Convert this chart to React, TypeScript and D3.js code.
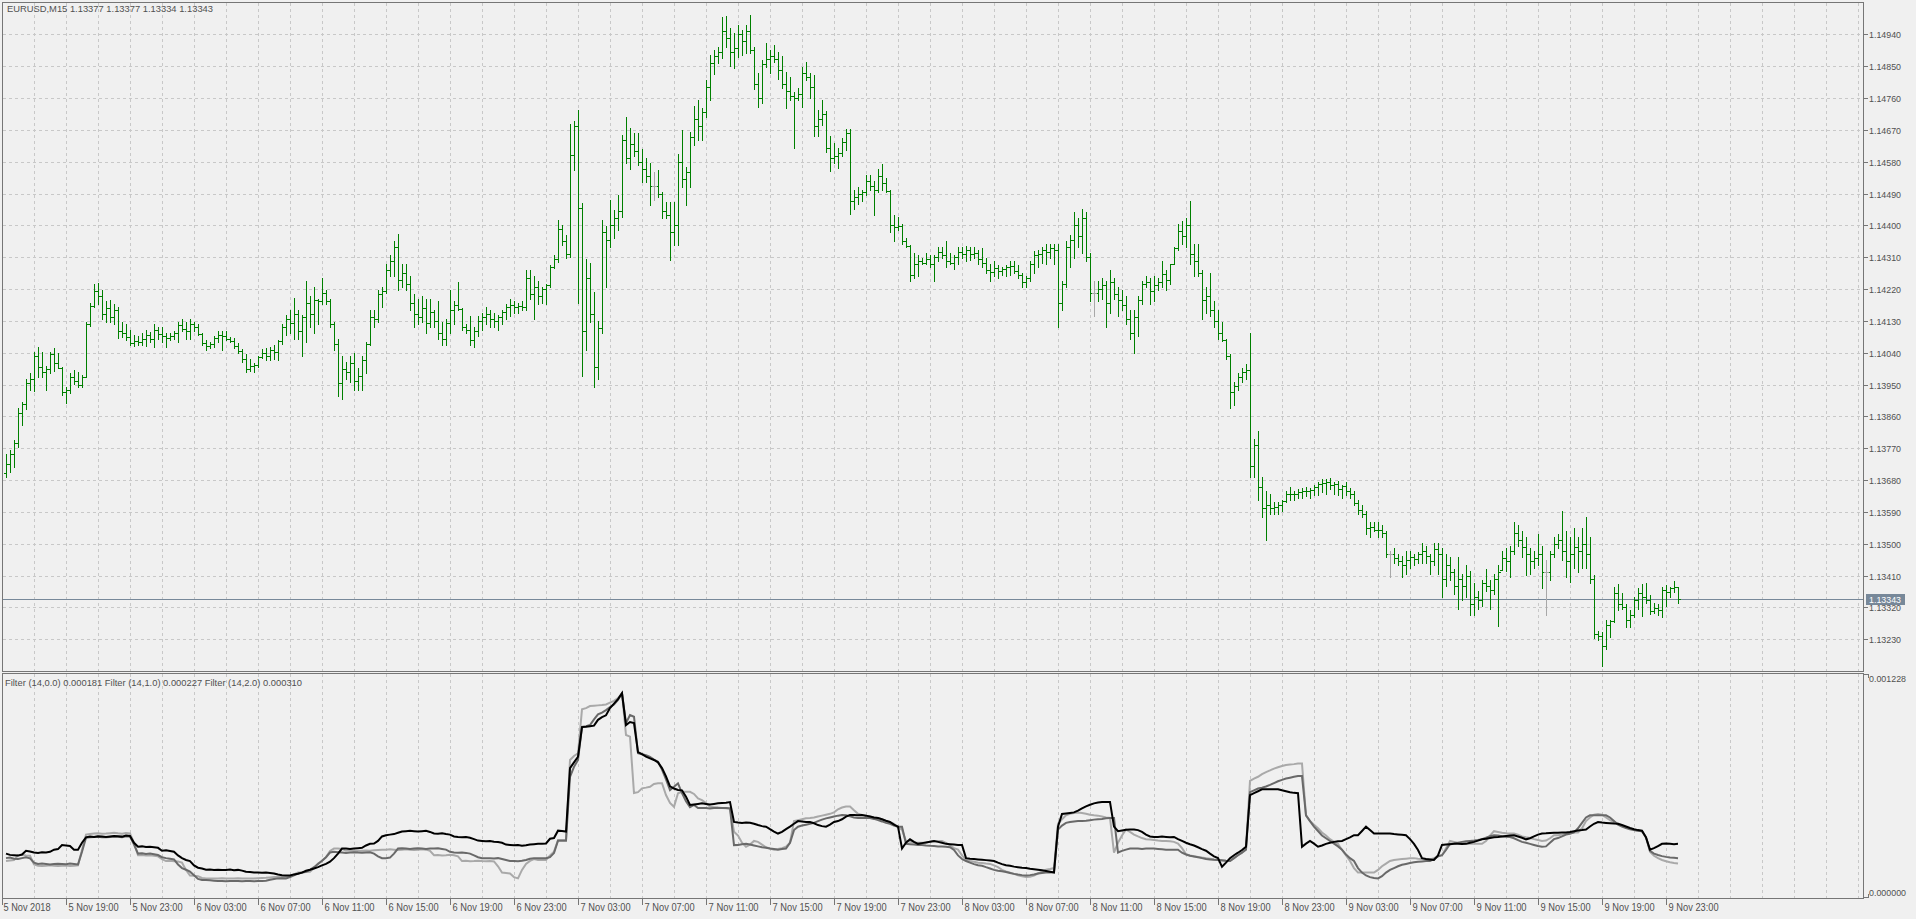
import React from "react";
import * as d3 from "d3";

const symbolTitle = "EURUSD,M15  1.13377 1.13377 1.13334 1.13343";
const filterTitle = "Filter (14,0.0) 0.000181 Filter (14,1.0) 0.000227 Filter (14,2.0) 0.000310";

// bar prices in points (0.00001) above 1.13000, one entry per M15 bar from 5 Nov 15:15
const priceBase = 1.13;
const firstOpen = 700;
const highs = [
  754, 765, 793, 883, 902, 965, 982, 1041, 1057, 1043,
  1002, 1043, 1052, 1038, 1000, 944, 982, 991, 986, 977,
  1128, 1180, 1234, 1237, 1218, 1185, 1190, 1177, 1169, 1128,
  1120, 1104, 1091, 1088, 1096, 1104, 1099, 1120, 1112, 1112,
  1095, 1095, 1100, 1128, 1136, 1128, 1136, 1128, 1120, 1096,
  1076, 1071, 1088, 1100, 1100, 1100, 1085, 1081, 1067, 1050,
  1036, 1021, 1010, 1031, 1050, 1052, 1057, 1062, 1076, 1120,
  1148, 1161, 1196, 1161, 1148, 1242, 1201, 1226, 1193, 1250,
  1218, 1193, 1128, 1080, 1031, 1015, 1031, 1039, 998, 1031,
  1071, 1161, 1161, 1218, 1226, 1291, 1315, 1355, 1375, 1291,
  1291, 1258, 1206, 1193, 1201, 1193, 1193, 1161, 1185, 1128,
  1136, 1218, 1185, 1239, 1165, 1120, 1145, 1112, 1145, 1153,
  1169, 1161, 1153, 1148, 1161, 1177, 1193, 1185, 1180, 1185,
  1274, 1274, 1258, 1242, 1226, 1234, 1288, 1316, 1415, 1401,
  1373, 1686, 1696, 1726, 1462, 1304, 1293, 1212, 1130, 1415,
  1398, 1472, 1443, 1486, 1655, 1707, 1674, 1662, 1660, 1615,
  1589, 1575, 1552, 1556, 1495, 1467, 1467, 1467, 1602, 1669,
  1566, 1665, 1737, 1754, 1731, 1811, 1881, 1897, 1905, 1990,
  1992, 1957, 1943, 1966, 1952, 1966, 1995, 1903, 1832, 1867,
  1914, 1896, 1910, 1891, 1879, 1834, 1820, 1778, 1789, 1848,
  1863, 1830, 1825, 1726, 1754, 1724, 1653, 1632, 1618, 1647,
  1672, 1672, 1501, 1509, 1501, 1542, 1542, 1526, 1558, 1574,
  1534, 1501, 1428, 1423, 1404, 1364, 1345, 1323, 1315, 1307,
  1323, 1315, 1315, 1339, 1339, 1356, 1323, 1315, 1339, 1339,
  1343, 1339, 1339, 1331, 1336, 1307, 1290, 1299, 1287, 1282,
  1287, 1299, 1299, 1287, 1266, 1258, 1299, 1328, 1331, 1339,
  1347, 1347, 1347, 1347, 1242, 1356, 1372, 1437, 1420, 1445,
  1437, 1323, 1242, 1242, 1250, 1242, 1274, 1250, 1226, 1218,
  1201, 1161, 1161, 1201, 1242, 1258, 1250, 1258, 1250, 1299,
  1274, 1292, 1339, 1404, 1412, 1420, 1469, 1347, 1347, 1274,
  1226, 1266, 1185, 1161, 1128, 1080, 1035, 958, 982, 998,
  1007, 1096, 796, 820, 690, 650, 642, 617, 617, 625,
  650, 661, 650, 655, 658, 661, 658, 666, 674, 682,
  682, 685, 674, 677, 666, 674, 658, 650, 625, 609,
  593, 561, 561, 561, 552, 536, 479, 487, 471, 466,
  479, 479, 471, 476, 503, 495, 471, 503, 503, 487,
  471, 463, 430, 463, 414, 439, 422, 390, 366, 398,
  430, 398, 414, 439, 479, 487, 495, 561, 552, 536,
  520, 487, 479, 528, 495, 455, 480, 520, 528, 593,
  536, 520, 544, 520, 544, 577, 520, 412, 253, 252,
  284, 284, 379, 386, 360, 329, 313, 350, 374, 386,
  390, 355, 332, 330, 379, 383, 379, 395, 377,
];
const lows = [
  690, 704, 718, 774, 836, 881, 935, 932, 972, 972,
  935, 982, 987, 996, 921, 899, 925, 953, 944, 942,
  970, 1115, 1169, 1177, 1136, 1128, 1128, 1120, 1081, 1085,
  1076, 1062, 1059, 1062, 1062, 1059, 1071, 1057, 1080, 1071,
  1057, 1076, 1080, 1071, 1100, 1080, 1080, 1100, 1090, 1062,
  1048, 1052, 1057, 1071, 1048, 1076, 1071, 1052, 1039, 1015,
  986, 987, 986, 1001, 1024, 1019, 1019, 1021, 1019, 1066,
  1090, 1096, 1080, 1080, 1031, 1071, 1112, 1096, 1120, 1177,
  1177, 1112, 1047, 917, 909, 966, 958, 934, 934, 934,
  982, 1063, 1112, 1128, 1169, 1209, 1258, 1258, 1218, 1226,
  1218, 1161, 1112, 1120, 1128, 1096, 1112, 1112, 1080, 1063,
  1063, 1096, 1120, 1161, 1104, 1096, 1063, 1055, 1088, 1104,
  1120, 1112, 1112, 1104, 1120, 1136, 1145, 1153, 1153, 1161,
  1161, 1193, 1136, 1177, 1180, 1177, 1227, 1280, 1297, 1344,
  1307, 1311, 1556, 1180, 975, 1047, 1128, 942, 966, 1096,
  1227, 1338, 1363, 1387, 1423, 1575, 1558, 1596, 1571, 1523,
  1523, 1457, 1473, 1481, 1420, 1420, 1302, 1344, 1344, 1509,
  1457, 1509, 1627, 1641, 1641, 1707, 1754, 1828, 1858, 1872,
  1905, 1849, 1844, 1877, 1881, 1886, 1886, 1784, 1735, 1747,
  1848, 1832, 1862, 1813, 1787, 1731, 1754, 1618, 1754, 1735,
  1811, 1761, 1653, 1653, 1684, 1608, 1555, 1575, 1561, 1595,
  1612, 1433, 1445, 1461, 1469, 1485, 1501, 1428, 1493, 1501,
  1493, 1380, 1355, 1388, 1347, 1339, 1242, 1250, 1258, 1290,
  1290, 1282, 1242, 1299, 1307, 1282, 1290, 1278, 1290, 1307,
  1299, 1303, 1307, 1290, 1282, 1266, 1242, 1258, 1250, 1261,
  1258, 1261, 1266, 1250, 1226, 1226, 1242, 1266, 1282, 1294,
  1290, 1307, 1290, 1112, 1161, 1226, 1282, 1307, 1339, 1323,
  1299, 1185, 1145, 1185, 1193, 1112, 1153, 1193, 1145, 1161,
  1120, 1080, 1039, 1088, 1177, 1226, 1177, 1185, 1218, 1226,
  1218, 1234, 1290, 1330, 1347, 1339, 1290, 1258, 1258, 1136,
  1153, 1145, 1112, 1080, 1072, 1023, 885, 893, 934, 958,
  966, 690, 690, 625, 577, 512, 585, 585, 585, 593,
  617, 625, 625, 629, 629, 634, 629, 638, 638, 645,
  642, 655, 642, 638, 629, 638, 629, 609, 585, 577,
  528, 520, 536, 520, 520, 463, 406, 447, 439, 406,
  414, 431, 439, 447, 447, 447, 414, 439, 414, 349,
  381, 398, 357, 317, 341, 349, 300, 300, 317, 325,
  366, 317, 357, 268, 426, 422, 406, 471, 495, 463,
  412, 414, 431, 439, 374, 300, 398, 463, 487, 455,
  407, 393, 431, 421, 431, 431, 388, 233, 228, 154,
  202, 237, 280, 313, 317, 266, 266, 294, 317, 297,
  332, 301, 303, 299, 294, 325, 350, 365, 334,
];
const closes = [
  725, 755, 785, 870, 895, 955, 965, 1030, 1000, 985,
  995, 1035, 1010, 998, 930, 935, 970, 960, 950, 972,
  1120, 1172, 1215, 1200, 1150, 1165, 1140, 1160, 1100, 1095,
  1085, 1068, 1072, 1070, 1080, 1090, 1078, 1105, 1092, 1088,
  1082, 1088, 1095, 1118, 1108, 1102, 1122, 1112, 1094, 1068,
  1058, 1066, 1082, 1090, 1086, 1080, 1074, 1060, 1045, 1022,
  995, 1002, 1006, 1028, 1040, 1032, 1048, 1042, 1072, 1112,
  1135, 1125, 1150, 1100, 1140, 1180, 1150, 1190, 1185, 1210,
  1185, 1120, 1065, 955, 995, 985, 1010, 960, 975, 1020,
  1066, 1140, 1135, 1205, 1215, 1275, 1300, 1340, 1245, 1265,
  1235, 1180, 1150, 1140, 1165, 1125, 1155, 1130, 1095, 1078,
  1125, 1160, 1175, 1163, 1112, 1105, 1075, 1100, 1130, 1140,
  1150, 1135, 1130, 1140, 1155, 1170, 1175, 1168, 1172, 1168,
  1250, 1205, 1225, 1200, 1220, 1230, 1283, 1305, 1390, 1355,
  1320, 1600, 1680, 1450, 1100, 1250, 1150, 1000, 1110, 1380,
  1360, 1400, 1420, 1440, 1640, 1590, 1630, 1610, 1580, 1560,
  1540, 1510, 1510, 1490, 1440, 1430, 1380, 1400, 1580, 1530,
  1550, 1650, 1700, 1680, 1720, 1790, 1860, 1880, 1890, 1950,
  1930, 1890, 1900, 1940, 1920, 1950, 1895, 1800, 1760, 1855,
  1870, 1880, 1870, 1840, 1800, 1780, 1765, 1760, 1770, 1830,
  1820, 1790, 1680, 1700, 1715, 1620, 1590, 1595, 1605, 1635,
  1660, 1470, 1480, 1490, 1495, 1525, 1510, 1500, 1540, 1520,
  1498, 1400, 1395, 1398, 1355, 1342, 1260, 1290, 1300, 1295,
  1305, 1290, 1310, 1325, 1315, 1300, 1295, 1310, 1325, 1320,
  1330, 1318, 1322, 1305, 1295, 1275, 1268, 1280, 1270, 1276,
  1282, 1285, 1272, 1260, 1240, 1252, 1290, 1315, 1320, 1330,
  1325, 1335, 1330, 1180, 1235, 1340, 1360, 1400, 1370, 1420,
  1310, 1210, 1210, 1220, 1230, 1180, 1240, 1205, 1190, 1175,
  1135, 1095, 1140, 1190, 1235, 1240, 1215, 1232, 1240, 1262,
  1245, 1291, 1335, 1385, 1370, 1400, 1320, 1300, 1265, 1190,
  1200, 1160, 1130, 1095, 1076, 1030, 930, 945, 970, 985,
  990, 720, 780, 660, 600, 610, 600, 605, 610, 620,
  640, 642, 640, 645, 650, 648, 652, 660, 668, 672,
  676, 665, 668, 655, 662, 650, 640, 615, 595, 585,
  545, 548, 540, 538, 530, 470, 470, 460, 450, 440,
  455, 462, 458, 470, 480, 465, 450, 485, 470, 400,
  440, 420, 380, 400, 380, 410, 330, 350, 340, 390,
  380, 370, 400, 420, 460, 450, 480, 530, 510, 490,
  470, 450, 460, 470, 420, 420, 470, 500, 510, 480,
  450, 470, 490, 480, 500, 470, 400, 245, 240, 210,
  270, 282, 360, 330, 320, 285, 300, 340, 360, 350,
  340, 310, 318, 312, 370, 365, 375, 377, 343,
];

const priceTicks = [
  1.1323, 1.1332, 1.1341, 1.135, 1.1359, 1.1368, 1.1377, 1.1386, 1.1395, 1.1404,
  1.1413, 1.1422, 1.1431, 1.144, 1.1449, 1.1458, 1.1467, 1.1476, 1.1485, 1.1494,
];
const lastPrice = 1.13343;

const firstTimeLabel = "5 Nov 2018";
const timeLabels = [
  "5 Nov 19:00", "5 Nov 23:00", "6 Nov 03:00", "6 Nov 07:00", "6 Nov 11:00", "6 Nov 15:00",
  "6 Nov 19:00", "6 Nov 23:00", "7 Nov 03:00", "7 Nov 07:00", "7 Nov 11:00", "7 Nov 15:00",
  "7 Nov 19:00", "7 Nov 23:00", "8 Nov 03:00", "8 Nov 07:00", "8 Nov 11:00", "8 Nov 15:00",
  "8 Nov 19:00", "8 Nov 23:00", "9 Nov 03:00", "9 Nov 07:00", "9 Nov 11:00", "9 Nov 15:00",
  "9 Nov 19:00", "9 Nov 23:00",
];

// indicator values in millionths
const filterLight = [
  199, 202, 205, 231, 233, 230, 228, 180, 173, 172,
  173, 175, 173, 171, 173, 174, 172, 173, 175, 260,
  345, 348, 351, 352, 350, 351, 353, 355, 352, 350,
  354, 352, 300, 231, 232, 230, 231, 228, 225, 210,
  199, 200, 198, 196, 190, 150, 119, 118, 115, 105,
  103, 103, 102, 103, 104, 103, 102, 103, 104, 103,
  103, 102, 103, 104, 105, 106, 108, 110, 110, 111,
  110, 115, 125, 135, 135, 138, 140, 160, 185, 199,
  220, 255, 268, 268, 266, 256, 258, 256, 254, 256,
  257, 256, 258, 260, 262, 262, 264, 262, 260, 262,
  264, 262, 260, 262, 264, 262, 255, 231, 232, 230,
  231, 233, 231, 225, 199, 200, 198, 199, 201, 199,
  198, 199, 197, 170, 135, 133, 130, 110, 103, 150,
  183, 200, 210, 205, 205, 205, 230, 251, 315, 315,
  315, 758, 780, 795, 1038, 1045, 1056, 1058, 1060, 1062,
  1065, 1075, 1085, 1100, 1127, 896, 887, 575, 580, 601,
  605, 610, 625, 629, 629, 564, 520, 499, 574, 582,
  582, 582, 570, 545, 536, 520, 499, 497, 494, 492,
  491, 491, 361, 340, 300, 278, 290, 310, 305, 290,
  275, 268, 262, 265, 270, 278, 300, 420, 425, 430,
  435, 437, 440, 445, 450, 455, 460, 468, 485, 495,
  501, 501, 480, 460, 454, 450, 445, 440, 437, 430,
  420, 412, 405, 385, 373, 310, 305, 302, 300, 300,
  302, 305, 308, 310, 310, 300, 285, 270, 262, 230,
  205, 199, 195, 190, 188, 185, 183, 175, 165, 150,
  142, 135, 128, 120, 115, 110, 112, 118, 130, 140,
  151, 155, 160, 405, 430, 452, 460, 465, 468, 465,
  460, 455, 452, 450, 445, 440, 437, 246, 300, 340,
  373, 360, 345, 335, 326, 320, 318, 315, 312, 310,
  310, 308, 305, 295, 270, 237, 230, 225, 222, 218,
  215, 212, 208, 205, 202, 200, 199, 215, 231, 245,
  278, 643, 655, 665, 680, 691, 700, 710, 718, 725,
  730, 733, 735, 738, 738, 452, 420, 400, 380, 357,
  340, 320, 305, 294, 260, 230, 199, 160, 135, 135,
  135, 135, 135, 150, 170, 185, 199, 205, 208, 210,
  212, 214, 215, 212, 210, 209, 208, 215, 225, 231,
  270, 310, 305, 300, 298, 296, 294, 294, 294, 294,
  310, 340, 364, 360, 355, 352, 351, 351, 345, 335,
  330, 326, 320, 315, 310, 312, 325, 342, 342, 345,
  350, 355, 357, 357, 380, 420, 440, 455, 459, 455,
  440, 425, 415, 405, 395, 385, 378, 370, 366, 364,
  330, 250, 228, 215, 205, 198, 192, 188, 185,
];
const filterDim = [
  215, 218, 212, 210, 215, 220, 214, 190, 183, 185,
  183, 180, 182, 184, 183, 181, 185, 183, 180, 250,
  328, 330, 332, 333, 331, 330, 332, 334, 333, 330,
  336, 334, 290, 240, 242, 238, 240, 236, 232, 220,
  215, 212, 208, 180, 160, 151, 140, 120, 100, 94,
  94, 92, 90, 88, 88, 87, 88, 89, 88, 87,
  88, 88, 87, 88, 89, 90, 95, 100, 103, 104,
  103, 110, 120, 130, 135, 140, 150, 165, 183, 200,
  220, 246, 250, 248, 246, 244, 246, 248, 246, 245,
  246, 247, 240, 225, 215, 215, 218, 240, 268, 270,
  268, 266, 268, 270, 268, 266, 268, 268, 270, 266,
  262, 250, 246, 245, 246, 244, 240, 230, 220, 215,
  215, 214, 213, 215, 210, 205, 199, 199, 198, 200,
  205, 212, 215, 214, 214, 214, 220, 243, 311, 311,
  311, 665, 720, 758, 941, 945, 951, 982, 1010, 1020,
  1034, 1050, 1065, 1090, 1127, 962, 1006, 997, 796, 790,
  785, 775, 760, 748, 705, 650, 592, 610, 629, 575,
  530, 497, 509, 492, 492, 492, 490, 492, 494, 492,
  492, 490, 287, 288, 292, 294, 290, 285, 280, 275,
  272, 268, 265, 262, 265, 268, 300, 370, 389, 395,
  400, 405, 410, 420, 428, 435, 440, 445, 450, 454,
  452, 446, 440, 437, 437, 437, 437, 432, 425, 418,
  410, 405, 395, 389, 389, 294, 292, 290, 288, 288,
  285, 283, 282, 280, 279, 278, 275, 260, 230, 210,
  199, 190, 182, 176, 173, 165, 158, 150, 145, 142,
  138, 133, 128, 124, 121, 119, 121, 125, 130, 133,
  135, 136, 138, 373, 395, 410, 415, 418, 420, 420,
  422, 425, 428, 430, 432, 435, 437, 437, 246, 255,
  262, 268, 268, 268, 266, 268, 268, 268, 266, 264,
  262, 262, 262, 262, 245, 235, 228, 224, 220, 215,
  210, 208, 206, 205, 203, 200, 199, 215, 231, 245,
  262, 580, 590, 600, 605, 611, 620, 630, 640, 648,
  655, 660, 665, 669, 669, 452, 420, 389, 365, 340,
  325, 310, 295, 280, 262, 235, 215, 199, 160, 135,
  119, 110, 105, 103, 115, 135, 150, 160, 170, 178,
  183, 188, 192, 195, 197, 199, 199, 210, 225, 231,
  260, 294, 296, 300, 305, 308, 310, 312, 315, 320,
  328, 336, 342, 340, 336, 333, 332, 325, 315, 305,
  300, 294, 288, 282, 278, 280, 300, 320, 326, 335,
  345, 350, 357, 380, 410, 440, 452, 452, 452, 452,
  452, 440, 420, 400, 389, 382, 375, 370, 366, 364,
  330, 255, 240, 232, 226, 222, 219, 217, 215,
];
const filterBlack = [
  240, 233, 231, 229, 235, 256, 252, 246, 244, 248,
  246, 250, 262, 265, 288, 285, 282, 262, 262, 300,
  330, 334, 332, 336, 334, 332, 335, 338, 336, 334,
  340, 338, 300, 278, 280, 276, 278, 275, 272, 256,
  258, 254, 250, 230, 215, 205, 199, 175, 162, 158,
  151, 152, 150, 151, 149, 150, 152, 148, 150, 146,
  140, 138, 136, 135, 134, 135, 133, 130, 124, 120,
  119, 119, 125, 129, 135, 145, 151, 158, 165, 175,
  183, 195, 215, 240, 268, 268, 266, 268, 270, 272,
  285, 294, 296, 310, 335, 342, 345, 348, 355, 362,
  364, 366, 364, 362, 364, 366, 360, 351, 350, 352,
  348, 345, 335, 332, 330, 332, 328, 320, 312, 310,
  308, 310, 306, 304, 300, 290, 288, 286, 288, 284,
  286, 290, 292, 294, 294, 296, 322, 326, 367, 365,
  362, 713, 745, 776, 940, 942, 945, 948, 980, 995,
  1005, 1045, 1070, 1095, 1127, 951, 968, 962, 802, 790,
  776, 767, 758, 745, 713, 667, 612, 600, 592, 590,
  555, 509, 512, 515, 518, 515, 512, 515, 518, 520,
  522, 525, 415, 412, 410, 412, 411, 405, 398, 392,
  389, 375, 362, 351, 360, 375, 389, 405, 420, 418,
  415, 415, 408, 398, 392, 389, 400, 415, 420, 430,
  445, 454, 454, 452, 454, 450, 445, 440, 437, 430,
  422, 415, 400, 389, 268, 300, 319, 305, 294, 298,
  302, 306, 310, 305, 300, 294, 292, 290, 288, 288,
  215, 212, 210, 208, 206, 204, 202, 199, 190, 182,
  176, 173, 168, 165, 162, 160, 156, 154, 151, 148,
  144, 140, 135, 389, 459, 462, 465, 468, 478, 490,
  501, 510, 518, 523, 525, 525, 525, 389, 364, 368,
  372, 373, 373, 370, 360, 345, 335, 332, 332, 334,
  332, 330, 332, 320, 310, 300, 292, 285, 275, 265,
  256, 240, 225, 215, 167, 190, 215, 231, 245, 260,
  278, 564, 575, 585, 596, 596, 596, 596, 596, 590,
  585, 580, 576, 574, 278, 295, 310, 295, 278, 285,
  294, 300, 305, 308, 310, 320, 330, 342, 342, 365,
  389, 370, 351, 351, 351, 351, 351, 348, 346, 344,
  342, 320, 294, 260, 215, 210, 208, 205, 230, 288,
  290, 292, 294, 294, 293, 294, 300, 305, 312, 319,
  322, 326, 330, 332, 335, 338, 340, 342, 335, 328,
  319, 325, 335, 345, 351, 352, 354, 355, 356, 357,
  357, 360, 364, 368, 370, 373, 390, 405, 415, 412,
  410, 408, 406, 405, 398, 390, 382, 375, 370, 367,
  330, 262, 270, 282, 294, 296, 294, 292, 294,
];
const filterMin = 0;
const filterMax = 0.001228;

const FONT = "'Liberation Sans', Arial, sans-serif";
const TEXT = "#505050";
const GRID = "#c8c8c8";
const BORDER = "#767676";

export default function App() {
  const W = 1916, H = 919;
  const left = 2, right = 1863, mainTop = 2, mainBottom = 671, indTop = 673, indBottom = 898;
  const n = highs.length;

  const x = d3.scaleLinear().domain([0, n - 1]).range([6, 6 + 4 * (n - 1)]);
  const y = d3.scaleLinear().domain([1.1323, 1.1494]).range([639.3, 34.3]);
  const yi = d3.scaleLinear().domain([filterMin * 1e6, filterMax * 1e6]).range([897, 675]);
  const price = (p: number) => priceBase + p / 100000;

  let green = "";
  let gray = "";
  for (let i = 0; i < n; i++) {
    const hi = highs[i], lo = lows[i], c = closes[i];
    const o = i === 0 ? firstOpen : closes[i - 1];
    const cx = Math.round(x(i));
    const yh = Math.round(y(price(hi)));
    const yl = Math.round(y(price(lo)));
    const yo = Math.round(y(price(Math.min(hi, Math.max(lo, o))))) + 0.5;
    const yc = Math.round(y(price(c))) + 0.5;
    const d = `M${cx + 0.5},${yh}V${yl + 1}M${cx - 2},${yo}H${cx}M${cx + 1},${yc}H${cx + 3}`;
    if (o === c) gray += d;
    else green += d;
  }

  const line = d3
    .line<number>()
    .x((_, i) => x(i))
    .y((v) => yi(v));

  // vertical grid every 8 bars, labels every 16 bars
  const gridBars = d3.range(7, 7 + 8 * 58, 8);
  const labelBars = timeLabels.map((_, k) => 15 + 16 * k);
  const yLast = Math.round(y(lastPrice)) + 0.5;

  return (
    <svg
      width={W}
      height={H}
      style={{ position: "absolute", left: 0, top: 0, display: "block" }}
      fontFamily={FONT}
    >
      <rect x={0} y={0} width={W} height={H} fill="#f0f0f0" />

      <g stroke={GRID} strokeDasharray="3,3" shapeRendering="crispEdges">
        {gridBars.map((b) => {
          const gx = Math.round(x(b)) + 0.5;
          return (
            <g key={b}>
              <line x1={gx} x2={gx} y1={mainTop + 1} y2={mainBottom} />
              <line x1={gx} x2={gx} y1={indTop + 1} y2={indBottom} />
            </g>
          );
        })}
        {priceTicks.map((p) => {
          const gy = Math.round(y(p)) + 0.5;
          return <line key={p} x1={left + 1} x2={right} y1={gy} y2={gy} />;
        })}
      </g>

      <line
        x1={left + 1}
        x2={right}
        y1={yLast}
        y2={yLast}
        stroke="#778899"
        shapeRendering="crispEdges"
      />

      <path d={green} stroke="#008000" strokeWidth={1} fill="none" shapeRendering="crispEdges" />
      <path d={gray} stroke="#a8a8a8" strokeWidth={1} fill="none" shapeRendering="crispEdges" />

      <path d={line(filterLight) ?? ""} stroke="#a9a9a9" strokeWidth={2} fill="none" />
      <path d={line(filterDim) ?? ""} stroke="#696969" strokeWidth={2} fill="none" />
      <path d={line(filterBlack) ?? ""} stroke="#000000" strokeWidth={2} fill="none" />

      <g fill="none" stroke={BORDER} shapeRendering="crispEdges">
        <rect x={left + 0.5} y={mainTop + 0.5} width={right - left} height={mainBottom - mainTop} />
        <rect x={left + 0.5} y={indTop + 0.5} width={right - left} height={indBottom - indTop} />
      </g>

      <text x={7} y={12} fontSize={9} fill={TEXT} textLength={206} lengthAdjust="spacingAndGlyphs">
        {symbolTitle}
      </text>
      <text x={5} y={686} fontSize={9} fill={TEXT} textLength={297} lengthAdjust="spacingAndGlyphs">
        {filterTitle}
      </text>

      <g stroke={BORDER} shapeRendering="crispEdges">
        {priceTicks.map((p) => {
          const gy = Math.round(y(p)) + 0.5;
          return <line key={p} x1={right} x2={right + 5} y1={gy} y2={gy} />;
        })}
        <line x1={right} x2={right + 5} y1={674.5} y2={674.5} />
        <line x1={right + 5} x2={right + 5} y1={674} y2={678} />
        <line x1={right} x2={right + 5} y1={897.5} y2={897.5} />
        <line x1={right + 5} x2={right + 5} y1={894} y2={898} />
        <line x1={left + 0.5} x2={left + 0.5} y1={indBottom} y2={indBottom + 7} />
        {labelBars.map((b) => {
          const tx = Math.round(x(b)) + 0.5;
          return <line key={b} x1={tx} x2={tx} y1={indBottom} y2={indBottom + 7} />;
        })}
      </g>

      <g fontSize={9.5} fill={TEXT}>
        {priceTicks.map((p) => (
          <text
            key={p}
            x={1869}
            y={Math.round(y(p)) + 3.5}
            textLength={32}
            lengthAdjust="spacingAndGlyphs"
          >
            {p.toFixed(5)}
          </text>
        ))}
        <text x={1869} y={682} textLength={37} lengthAdjust="spacingAndGlyphs">
          {filterMax.toFixed(6)}
        </text>
        <text x={1869} y={896} textLength={37} lengthAdjust="spacingAndGlyphs">
          {filterMin.toFixed(6)}
        </text>
      </g>

      <g fontSize={10.5} fill={TEXT}>
        <text x={3.5} y={911} textLength={47} lengthAdjust="spacingAndGlyphs">
          {firstTimeLabel}
        </text>
        {timeLabels.map((t, k) => (
          <text
            key={t}
            x={Math.round(x(labelBars[k])) + 2.6}
            y={911}
            textLength={50}
            lengthAdjust="spacingAndGlyphs"
          >
            {t}
          </text>
        ))}
      </g>

      <rect x={1866} y={594} width={39} height={11} fill="#778899" />
      <text
        x={1869}
        y={603}
        fontSize={9.5}
        fill="#ffffff"
        textLength={32}
        lengthAdjust="spacingAndGlyphs"
      >
        {lastPrice.toFixed(5)}
      </text>
    </svg>
  );
}
